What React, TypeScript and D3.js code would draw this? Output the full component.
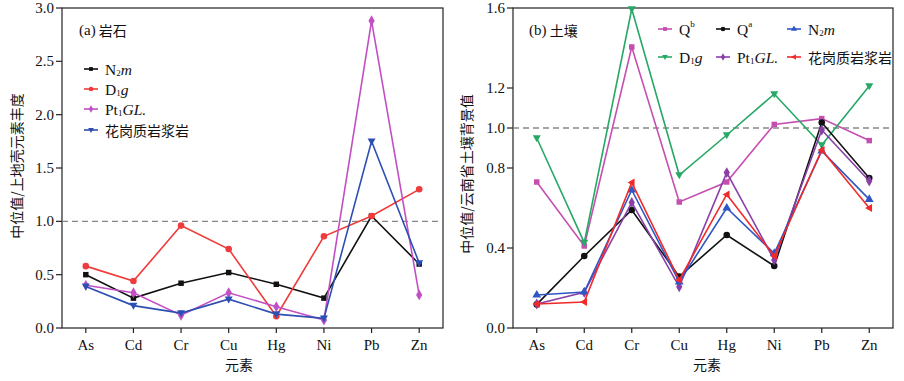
import React from "react";
import * as d3 from "d3";

const elements = ["As", "Cd", "Cr", "Cu", "Hg", "Ni", "Pb", "Zn"];

// Panel (a) rock
const rockN2m = [0.50, 0.28, 0.42, 0.52, 0.41, 0.28, 1.05, 0.60];
const rockD1g = [0.58, 0.44, 0.96, 0.74, 0.11, 0.86, 1.05, 1.30];
const rockPt1GL = [0.40, 0.33, 0.12, 0.33, 0.20, 0.075, 2.88, 0.31];
const rockGranite = [0.39, 0.21, 0.14, 0.27, 0.13, 0.09, 1.75, 0.61];
const rockTicks = [0, 0.5, 1.0, 1.5, 2.0, 2.5, 3.0];

// Panel (b) soil
const soilQb = [0.73, 0.41, 1.405, 0.63, 0.73, 1.018, 1.047, 0.937];
const soilQa = [0.118, 0.36, 0.59, 0.257, 0.465, 0.31, 1.027, 0.75];
const soilN2m = [0.165, 0.18, 0.69, 0.23, 0.60, 0.373, 0.885, 0.643];
const soilD1g = [0.95, 0.427, 1.595, 0.765, 0.965, 1.17, 0.915, 1.21];
const soilPt1GL = [0.12, 0.178, 0.628, 0.206, 0.777, 0.34, 0.99, 0.735];
const soilGranite = [0.12, 0.13, 0.728, 0.24, 0.668, 0.36, 0.89, 0.60];
const soilTicks = [0, 0.4, 0.8, 1.0, 1.2, 1.6];

const SERIF = "'Liberation Serif', 'Times New Roman', 'Noto Serif CJK SC', 'Noto Sans CJK SC', serif";
const CJK = "'Noto Sans CJK SC', sans-serif";

type Shape = "square" | "circle" | "diamond" | "down" | "up" | "left";

function markerPath(shape: Shape): string {
  switch (shape) {
    case "square": return d3.symbol(d3.symbolSquare, 30)()!;
    case "circle": return d3.symbol(d3.symbolCircle, 34)()!;
    case "diamond": return d3.symbol(d3.symbolDiamond, 34)()!;
    case "up": return d3.symbol(d3.symbolTriangle, 34)()!;
    case "down": return "M-4,-2.8L4,-2.8L0,4.2Z";
    case "left": return "M-4.2,0L2.8,-4L2.8,4Z";
  }
}

type Label = { main: string; sub?: string; sup?: string; italic?: string; cjk?: boolean };

type Series = { name: Label; values: number[]; color: string; shape: Shape };

function LabelText({ x, y, label, size }: { x: number; y: number; label: Label; size: number }) {
  if (label.cjk) {
    return (
      <text x={x} y={y} fontSize={size} fontFamily={CJK} dominantBaseline="central" fill="#111">
        {label.main}
      </text>
    );
  }
  return (
    <text x={x} y={y} fontSize={size + 1.5} fontFamily={SERIF} dominantBaseline="central" fill="#111">
      <tspan>{label.main}</tspan>
      {label.sub && <tspan fontSize={size * 0.65} dy={4}>{label.sub}</tspan>}
      {label.sup && <tspan fontSize={size * 0.65} dy={-5}>{label.sup}</tspan>}
      {label.italic && (
        <tspan fontStyle="italic" dy={label.sub ? -4 : label.sup ? 5 : 0}>{label.italic}</tspan>
      )}
    </text>
  );
}

type PanelProps = {
  left: number;
  right: number;
  top: number;
  bottom: number;
  yMax: number;
  ticks: number[];
  tickFmt: (v: number) => string;
  series: Series[];
  title: string;
  titleX: number;
  yTitle: string;
  yTitleX: number;
  yTitleY: number;
  xTitleX: number;
  legend: { x: number; y: number; label: Label; color: string; shape: Shape }[];
};

function Panel(p: PanelProps) {
  const x = d3.scalePoint<string>().domain(elements).range([p.left, p.right]).padding(0.5);
  const y = d3.scaleLinear().domain([0, p.yMax]).range([p.bottom, p.top]);
  const line = d3.line<number>().x((_, i) => x(elements[i])!).y((v) => y(v));
  const axisColor = "#222";
  return (
    <g>
      <rect x={p.left} y={p.top} width={p.right - p.left} height={p.bottom - p.top} fill="#fff" stroke={axisColor} strokeWidth={1.2} />
      <line x1={p.left} x2={p.right} y1={y(1)} y2={y(1)} stroke="#888" strokeWidth={1.3} strokeDasharray="6,4" />
      {p.ticks.map((t) => (
        <g key={t}>
          <line x1={p.left - 6} x2={p.left} y1={y(t)} y2={y(t)} stroke={axisColor} strokeWidth={1.2} />
          <text x={p.left - 8} y={y(t)} textAnchor="end" dominantBaseline="central" fontSize={15} fontFamily={SERIF} fill="#111">
            {p.tickFmt(t)}
          </text>
        </g>
      ))}
      {elements.map((e) => (
        <g key={e}>
          <line x1={x(e)} x2={x(e)} y1={p.bottom} y2={p.bottom + 5} stroke={axisColor} strokeWidth={1.2} />
          <text x={x(e)} y={p.bottom + 22} textAnchor="middle" fontSize={15} fontFamily={SERIF} fill="#111">
            {e}
          </text>
        </g>
      ))}
      <text x={p.xTitleX} y={p.bottom + 42} textAnchor="middle" fontSize={14} fontFamily={CJK} fill="#111">
        元素
      </text>
      <text
        transform={`translate(${p.yTitleX},${p.yTitleY}) rotate(-90)`}
        textAnchor="middle"
        dominantBaseline="central"
        fontSize={14}
        fontFamily={CJK}
        fill="#111"
      >
        {p.yTitle}
      </text>
      {p.series.map((s, si) => (
        <g key={si}>
          <path d={line(s.values)!} fill="none" stroke={s.color} strokeWidth={1.6} />
          {s.values.map((v, i) => (
            <path key={i} d={markerPath(s.shape)} transform={`translate(${x(elements[i])},${y(v)})`} fill={s.color} />
          ))}
        </g>
      ))}
      <text x={p.titleX} y={p.top + 22} dominantBaseline="central" fontSize={15} fontFamily={SERIF} fill="#111">
        {p.title.split(" ")[0]}
        <tspan fontFamily={CJK} fontSize={14}> {p.title.split(" ")[1]}</tspan>
      </text>
      {p.legend.map((l, i) => (
        <g key={i}>
          <line x1={l.x} x2={l.x + 14} y1={l.y} y2={l.y} stroke={l.color} strokeWidth={1.6} />
          <path d={markerPath(l.shape)} transform={`translate(${l.x + 7},${l.y}) scale(0.7)`} fill={l.color} />
          <LabelText x={l.x + 21} y={l.y} label={l.label} size={14} />
        </g>
      ))}
    </g>
  );
}

const N2m: Label = { main: "N", sub: "2", italic: "m" };
const D1g: Label = { main: "D", sub: "1", italic: "g" };
const Pt1GL: Label = { main: "Pt", sub: "1", italic: "GL." };
const Granite: Label = { main: "花岗质岩浆岩", cjk: true };
const Qb: Label = { main: "Q", sup: "b" };
const Qa: Label = { main: "Q", sup: "a" };

export default function App() {
  const black = "#111111";
  const redA = "#ef3b3b";
  const magA = "#c24fc4";
  const blueA = "#2d4fb3";
  const pink = "#c44fb0";
  const green = "#27a866";
  const purple = "#8a3fa8";
  const redB = "#f02a2a";
  const blueB = "#2f56c4";

  const rockSeries: Series[] = [
    { name: N2m, values: rockN2m, color: black, shape: "square" },
    { name: D1g, values: rockD1g, color: redA, shape: "circle" },
    { name: Pt1GL, values: rockPt1GL, color: magA, shape: "diamond" },
    { name: Granite, values: rockGranite, color: blueA, shape: "down" },
  ];
  const soilSeries: Series[] = [
    { name: Qb, values: soilQb, color: pink, shape: "square" },
    { name: D1g, values: soilD1g, color: green, shape: "down" },
    { name: Qa, values: soilQa, color: black, shape: "circle" },
    { name: Pt1GL, values: soilPt1GL, color: purple, shape: "diamond" },
    { name: N2m, values: soilN2m, color: blueB, shape: "up" },
    { name: Granite, values: soilGranite, color: redB, shape: "left" },
  ];
  const legA = rockSeries.map((s, i) => ({
    x: 84, y: [69, 89, 109, 130][i], label: s.name, color: s.color, shape: s.shape,
  }));
  const legB = [
    { x: 658, y: 29, s: soilSeries[0] },
    { x: 716, y: 29, s: soilSeries[2] },
    { x: 787, y: 29, s: soilSeries[4] },
    { x: 658, y: 57, s: soilSeries[1] },
    { x: 716, y: 57, s: soilSeries[3] },
    { x: 787, y: 57, s: soilSeries[5] },
  ].map((l) => ({ x: l.x, y: l.y, label: l.s.name, color: l.s.color, shape: l.s.shape }));

  return (
    <svg width={904} height={381} style={{ position: "absolute", left: 0, top: 0, background: "#fff" }}>
      <Panel
        left={62}
        right={443}
        top={8}
        bottom={328}
        yMax={3.0}
        ticks={rockTicks}
        tickFmt={(v) => v.toFixed(1)}
        series={rockSeries}
        title="(a) 岩石"
        titleX={79}
        yTitle="中位值/上地壳元素丰度"
        yTitleX={16}
        yTitleY={166}
        xTitleX={239}
        legend={legA}
      />
      <Panel
        left={513}
        right={893}
        top={8}
        bottom={328}
        yMax={1.6}
        ticks={soilTicks}
        tickFmt={(v) => v.toFixed(1)}
        series={soilSeries}
        title="(b) 土壤"
        titleX={529}
        yTitle="中位值/云南省土壤背景值"
        yTitleX={466}
        yTitleY={174}
        xTitleX={707}
        legend={legB}
      />
    </svg>
  );
}
